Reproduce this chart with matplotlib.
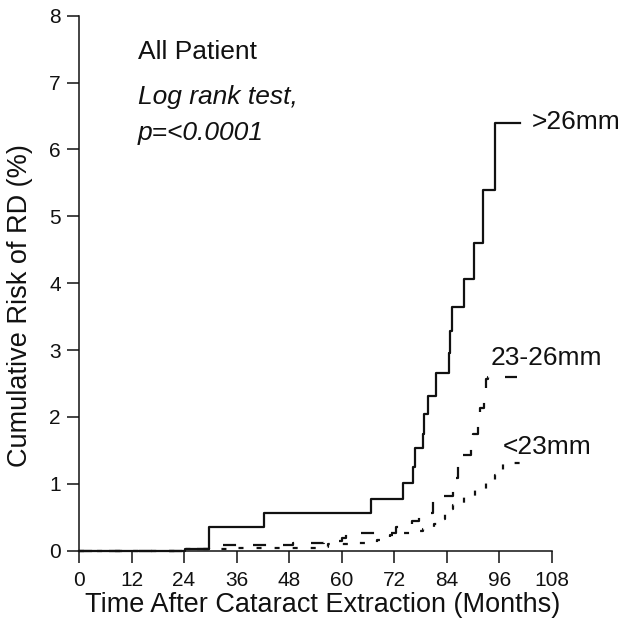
import matplotlib
matplotlib.use("Agg")
import matplotlib.pyplot as plt

plt.rcParams['font.family'] = ['Liberation Sans', 'DejaVu Sans']
plt.rcParams['lines.scale_dashes'] = False

# ---- data ----
months_gt26 = [0, 24.3, 29.8, 42.2, 66.7, 74.0, 76.4, 76.8, 78.5, 78.8, 79.7, 81.6,
               84.5, 84.8, 85.3, 88.0, 90.2, 92.4, 95.0, 100.8]
risk_gt26 = [0, 0.03, 0.36, 0.56, 0.78, 1.01, 1.25, 1.53, 1.75, 2.05, 2.32, 2.65,
             2.95, 3.29, 3.64, 4.07, 4.60, 5.39, 6.40, 6.40]

months_23_26 = [0, 24.5, 29.8, 49.0, 56.0, 60.0, 61.0, 72.5, 76.0, 77.7, 80.8, 81.3,
                85.5, 85.9, 86.5, 87.0, 89.5, 90.0, 91.2, 91.6, 92.6, 93.0, 93.5, 100.0]
risk_23_26 = [0, 0.03, 0.09, 0.12, 0.15, 0.19, 0.27, 0.36, 0.45, 0.56, 0.76, 0.82,
              0.91, 1.08, 1.35, 1.43, 1.58, 1.75, 1.95, 2.13, 2.40, 2.57, 2.60, 2.60]

months_lt23 = [0, 24.5, 36.0, 55.0, 57.0, 64.0, 68.0, 71.0, 74.0, 77.0, 78.5, 81.0,
               83.0, 83.6, 85.0, 85.5, 88.0, 90.5, 93.0, 95.0, 96.8, 102.0]
risk_lt23 = [0, 0.02, 0.045, 0.06, 0.095, 0.11, 0.16, 0.23, 0.27, 0.30, 0.33, 0.40,
             0.48, 0.55, 0.62, 0.69, 0.81, 0.92, 1.02, 1.13, 1.31, 1.31]

x_ticks = [0, 12, 24, 36, 48, 60, 72, 84, 96, 108]
y_ticks = [0, 1, 2, 3, 4, 5, 6, 7, 8]

series_labels = ['>26mm', '23-26mm', '<23mm']

# ---- figure ----
fig = plt.figure(figsize=(6.26, 6.18), dpi=100)
ax = fig.add_axes([0.1262, 0.1089, 0.7551, 0.8657])

lc = '#111111'
ax.step(months_gt26, risk_gt26, where='post', color=lc, lw=1.6, clip_on=False)
ax.step(months_23_26, risk_23_26, where='post', color=lc, lw=1.6,
        linestyle=(0, (9.4, 12.2)), clip_on=False)
ax.step(months_lt23, risk_lt23, where='post', color=lc, lw=1.6,
        linestyle=(0, (3.6, 9.4)), clip_on=False)

ax.set_xlim(0, 108)
ax.set_ylim(0, 8)
ax.set_xticks(x_ticks)
ax.set_yticks(y_ticks)

for s in ['top', 'right']:
    ax.spines[s].set_visible(False)
for s in ['left', 'bottom']:
    ax.spines[s].set_linewidth(1.1)
    ax.spines[s].set_color(lc)

ax.tick_params(axis='both', direction='out', length=8.6, width=1.1, color=lc,
               labelsize=15, labelcolor=lc)
ax.tick_params(axis='x', pad=6)
ax.tick_params(axis='y', pad=4.5)

ax.set_xlabel('Time After Cataract Extraction (Months)', fontsize=19.5, color=lc)
ax.xaxis.set_label_coords(0.516, -0.077)
ax.set_ylabel('Cumulative Risk of RD (%)', fontsize=19.5, color=lc)
ax.yaxis.set_label_coords(-0.097, 0.458)

# annotations
ax.text(13.5, 7.35, 'All Patient', fontsize=19, color=lc, ha='left', va='baseline')
ax.text(13.5, 6.68, 'Log rank test,', fontsize=19, color=lc, style='italic',
        ha='left', va='baseline')
ax.text(13.5, 6.14, 'p=<0.0001', fontsize=19, color=lc, style='italic',
        ha='left', va='baseline')

ax.text(103.4, 6.41, series_labels[0], fontsize=19, color=lc, ha='left', va='center')
ax.text(94.0, 2.88, series_labels[1], fontsize=19, color=lc, ha='left', va='center')
ax.text(96.9, 1.55, series_labels[2], fontsize=19, color=lc, ha='left', va='center')

fig.savefig('out.png', dpi=100)
